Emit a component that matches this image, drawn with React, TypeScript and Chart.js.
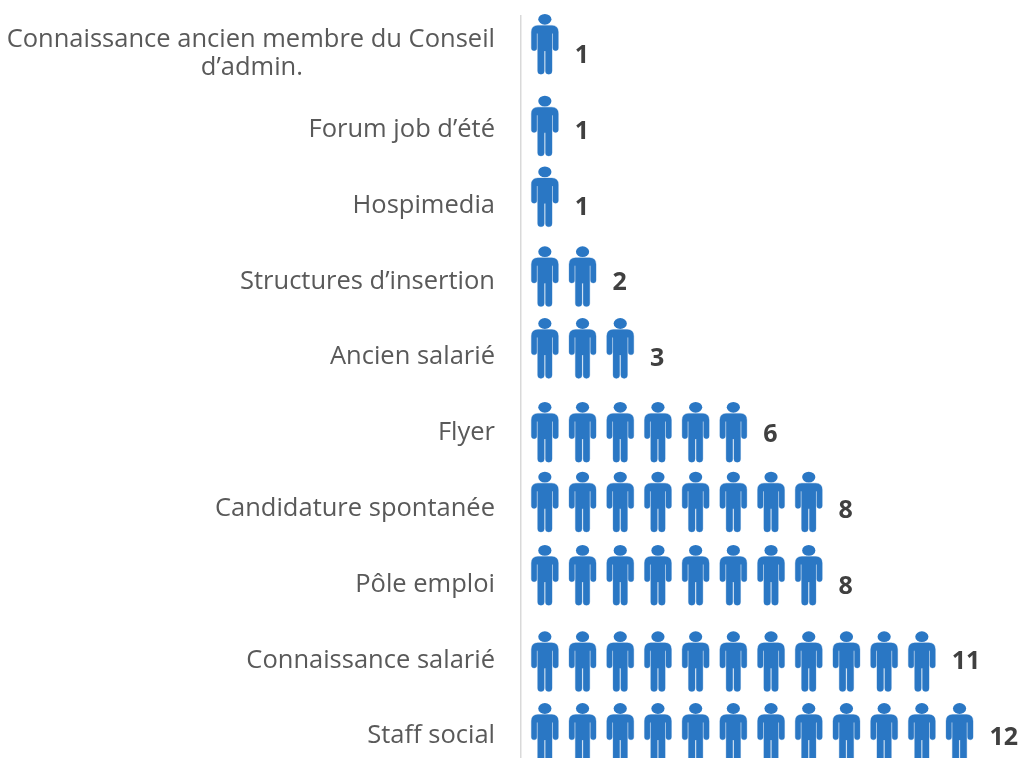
import React, { useEffect, useRef } from "react";
import { Chart, registerables } from "chart.js";

Chart.register(...registerables);

const categories: (string | string[])[] = [
  ["Connaissance ancien membre du Conseil", "d’admin."],
  "Forum job d’été",
  "Hospimedia",
  "Structures d’insertion",
  "Ancien salarié",
  "Flyer",
  "Candidature spontanée",
  "Pôle emploi",
  "Connaissance salarié",
  "Staff social",
];
const counts = [1, 1, 1, 2, 3, 6, 8, 8, 11, 12];

const FONT = '"Open Sans", sans-serif';
const W = 1019;
const H = 790;
const AXIS_X = 521;
const UNIT = 37.7;
const BLUE = "#2a77c4";
// vertical placement of each row's pictures, relative to its category band centre
const ROW_SHIFT = [-40, -34, -39, -35, -39, -31, -37, -39.5, -29, -33];

const PERSON = new Path2D(
  "M-13.5 18 Q-13.5 11.5 -7 11.5 L7 11.5 Q13.5 11.5 13.5 18 L13.5 34 A2.75 2.75 0 0 1 8 34 L8 19.5 L7.2 19.5 L7.2 57 A3.3 3.3 0 0 1 0.6 57 L0.6 37 L-0.6 37 L-0.6 57 A3.3 3.3 0 0 1 -7.2 57 L-7.2 19.5 L-8 19.5 L-8 34 A2.75 2.75 0 0 1 -13.5 34 Z"
);

const pictogram = {
  id: "pictogram",
  afterDatasetsDraw(chart: any) {
    const { ctx, scales } = chart;
    const x = scales.x;
    chart.getDatasetMeta(0).data.forEach((bar: any, row: number) => {
      const n = counts[row];
      const top = bar.y + ROW_SHIFT[row];
      for (let i = 0; i < n; i++) {
        const cx = x.getPixelForValue(i + 0.5);
        ctx.save();
        ctx.translate(cx, top);
        ctx.fillStyle = BLUE;
        ctx.strokeStyle = "rgba(42,119,196,0.3)";
        ctx.lineWidth = 1;
        ctx.stroke(PERSON);
        ctx.fill(PERSON);
        ctx.beginPath();
        ctx.ellipse(0, 5.4, 6.6, 5.4, 0, 0, Math.PI * 2);
        ctx.fill();
        ctx.restore();
      }
      ctx.save();
      ctx.fillStyle = "#404040";
      ctx.font = `bold 25px ${FONT}`;
      ctx.textAlign = "left";
      ctx.textBaseline = "middle";
      ctx.fillText(String(n), x.getPixelForValue(n) + 11, bar.y + 2);
      ctx.restore();
    });
  },
};

export default function App() {
  const ref = useRef<HTMLCanvasElement>(null);
  useEffect(() => {
    document.body.style.margin = "0";
    const chart = new Chart(ref.current!, {
      type: "bar",
      data: {
        labels: categories as any,
        datasets: [
          {
            data: counts,
            backgroundColor: "rgba(0,0,0,0)",
            borderWidth: 0,
          },
        ],
      },
      options: {
        indexAxis: "y",
        responsive: false,
        animation: false,
        layout: { padding: { top: 16, bottom: 16, left: 0, right: 0 } },
        plugins: { legend: { display: false }, tooltip: { enabled: false } },
        scales: {
          x: {
            display: false,
            min: -5 / UNIT,
            max: (W - AXIS_X - 5) / UNIT,
          },
          y: {
            afterFit: (s: any) => {
              s.width = AXIS_X;
              s.paddingTop = 0;
              s.paddingBottom = 0;
            },
            grid: { display: false, drawTicks: false },
            border: { display: true, color: "#d9d9d9", width: 1.5 },
            ticks: {
              padding: 26,
              autoSkip: false,
              color: "#595959",
              font: { family: FONT, size: 25.5, lineHeight: 1.1 },
              callback(this: any, value: any) {
                const l = this.getLabelForValue(value);
                if (Array.isArray(l)) {
                  // second line of the wrapped label sits centred under the first
                  return [l[0], l[1] + "\u00a0".repeat(29)];
                }
                return l;
              },
            },
          },
        },
      },
      plugins: [pictogram],
    } as any);
    return () => chart.destroy();
  }, []);
  return (
    <div style={{ width: W, height: 758, overflow: "hidden", background: "#fff" }}>
      <canvas ref={ref} width={W} height={H} style={{ display: "block" }} />
    </div>
  );
}
